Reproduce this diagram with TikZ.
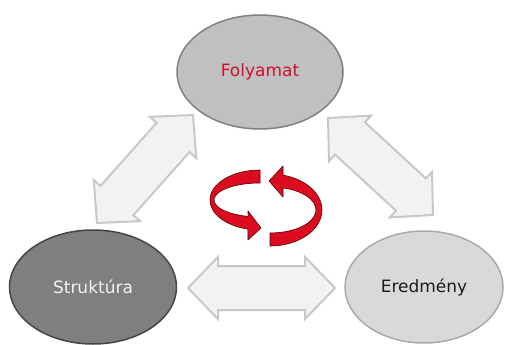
\documentclass[tikz,border=0pt]{standalone}
\usepackage{fontspec}
\setmainfont{DejaVu Sans}
\usetikzlibrary{shapes.geometric,calc}
\definecolor{fillF}{RGB}{192,192,192}
\definecolor{lineF}{RGB}{128,128,128}
\definecolor{textF}{RGB}{208,16,47}
\definecolor{fillS}{RGB}{127,127,127}
\definecolor{lineS}{RGB}{70,70,70}
\definecolor{textS}{RGB}{242,242,242}
\definecolor{fillE}{RGB}{217,217,217}
\definecolor{lineE}{RGB}{170,170,170}
\definecolor{textE}{RGB}{26,26,26}
\definecolor{arrfill}{RGB}{242,242,242}
\definecolor{arrline}{RGB}{200,200,200}
\definecolor{cycfill}{RGB}{220,12,32}
\definecolor{cycline}{RGB}{90,0,0}
\tikzset{
  oval/.style={ellipse, line width=1.5pt, font=\fontsize{17}{19}\selectfont, inner sep=0pt},
  blockarrow/.style={fill=arrfill, draw=arrline, line width=2pt, line join=miter},
  cycarrow/.style={fill=cycfill, draw=cycline, line width=0.6pt, line join=round}
}
\newcommand\blockarrow[2]{%
  \filldraw[blockarrow] (#1)
    -- ($(#1)!30pt!(#2)!31pt!90:(#2)$)
    -- ($(#1)!30pt!(#2)!22pt!90:(#2)$)
    -- ($(#2)!30pt!(#1)!22pt!-90:(#1)$)
    -- ($(#2)!30pt!(#1)!31pt!-90:(#1)$)
    -- (#2)
    -- ($(#2)!30pt!(#1)!31pt!90:(#1)$)
    -- ($(#2)!30pt!(#1)!22pt!90:(#1)$)
    -- ($(#1)!30pt!(#2)!22pt!-90:(#2)$)
    -- ($(#1)!30pt!(#2)!31pt!-90:(#2)$)
    -- cycle;}
\begin{document}
\begin{tikzpicture}[x=1pt,y=-1pt]
\useasboundingbox[fill=white] (0,0) rectangle (506,345);
% ovals
\node[oval, fill=fillF, draw=lineF, text=textF, minimum width=166pt, minimum height=114pt] (f) at (260,72) {Folyamat};
\node[oval, fill=fillS, draw=lineS, text=textS, minimum width=167pt, minimum height=114pt] (s) at (93,287) {Struktúra};
\node[oval, fill=fillE, draw=lineE, text=textE, minimum width=158pt, minimum height=112pt] (e) at (424,287) {Eredmény};
% arrow tips
\coordinate (sf1) at (97,223);
\coordinate (sf2) at (193,115);
\coordinate (fe1) at (328,118);
\coordinate (fe2) at (433,215);
\coordinate (se1) at (188,288);
\coordinate (se2) at (335,288);
\blockarrow{sf1}{sf2}
\blockarrow{fe1}{fe2}
\blockarrow{se1}{se2}
% cycle arrows
\filldraw[cycarrow] (260,170) arc[start angle=270, end angle=104, x radius=50, y radius=30]
  -- (248,240) -- (261,228) -- (248,211) -- (248.1,216.4)
  arc[start angle=105, end angle=270, x radius=46, y radius=17] -- cycle;
\filldraw[cycarrow] (270,246) arc[start angle=90, end angle=-75.5, x radius=52, y radius=36]
  -- (283,166) -- (269,181) -- (283,197) -- (283.0,187.9)
  arc[start angle=-73.6, end angle=90, x radius=46, y radius=23] -- cycle;
\end{tikzpicture}
\end{document}
